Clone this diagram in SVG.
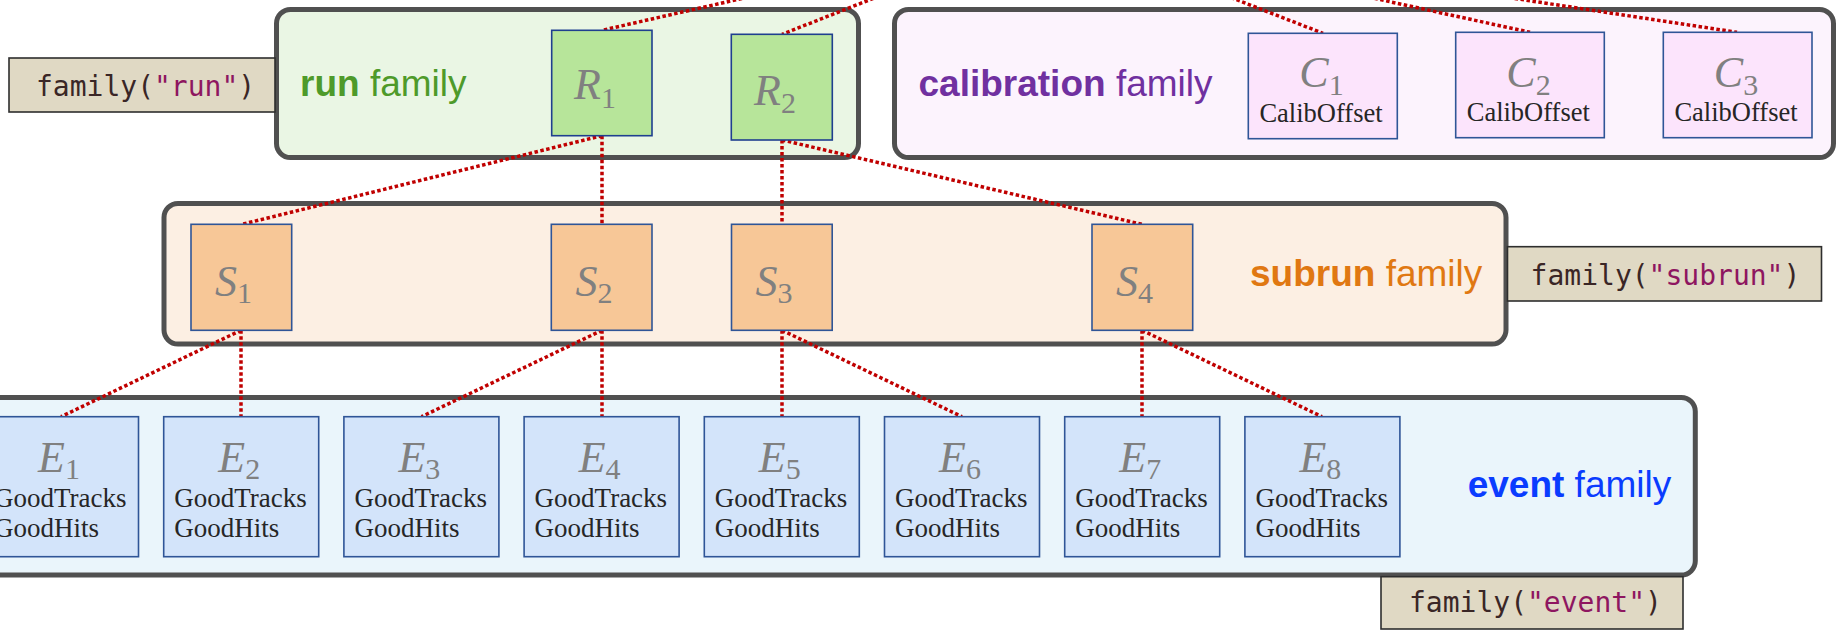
<svg xmlns="http://www.w3.org/2000/svg" width="1837" height="630" viewBox="0 0 1837 630">
  <style>
    .fam { stroke: #505050; stroke-width: 5; }
    .famtxt { font-family: "Liberation Sans", Arial, sans-serif; font-size: 37px; }
    .famtxt .b { font-weight: bold; }
    .tag rect { fill: #E0D9C4; stroke: #2E2E2E; stroke-width: 1.6; }
    .tag text { font-family: "DejaVu Sans Mono", "Liberation Mono", monospace; font-size: 28px; fill: #3A2626; }
    .tag .str { fill: #8E1660; }
    .node rect { stroke: #2F5597; stroke-width: 1.6; }
    .sym { font-family: "Liberation Serif", "Times New Roman", serif; font-style: italic; font-size: 44px; fill: #808080; text-anchor: middle; }
    .sym .sub { font-style: normal; font-size: 30px; }
    .prod { font-family: "Liberation Serif", "Times New Roman", serif; font-size: 27px; fill: #262626; }
    .cal .prod { font-size: 26.5px; }
    .run rect { fill: #B7E59A; stroke: #1F3F8F; }
    .cal rect { fill: #FCE4FC; }
    .sub rect { fill: #F7C797; }
    .evt rect { fill: #D3E4FA; }
    #connectors line { stroke: #C00000; stroke-width: 3.5; stroke-dasharray: 3.5 2.5; fill: none; }
  </style>

  <!-- family containers -->
  <g id="run-family">
    <rect class="fam" x="276.5" y="9.5" width="582" height="148" rx="14" fill="#EAF6E4"/>
    <text class="famtxt" x="300" y="96" fill="#4E9A2A"><tspan class="b">run</tspan> family</text>
  </g>
  <g id="calibration-family">
    <rect class="fam" x="894.5" y="9.5" width="939" height="148" rx="14" fill="#FCF3FD"/>
    <text class="famtxt" x="918.5" y="96" fill="#7030A0"><tspan class="b">calibration</tspan> family</text>
  </g>
  <g id="subrun-family">
    <rect class="fam" x="164" y="203.5" width="1342" height="140.5" rx="14" fill="#FCEFE3"/>
    <text class="famtxt" x="1250" y="286" fill="#E07812"><tspan class="b">subrun</tspan> family</text>
  </g>
  <g id="event-family">
    <rect class="fam" x="-40" y="397.5" width="1735.3" height="177.5" rx="14" fill="#EAF5FB"/>
    <text class="famtxt" x="1467.7" y="497.3" fill="#0A3CFF"><tspan class="b">event</tspan> family</text>
  </g>

  <!-- family(...) tags -->
  <g id="tag-run" class="tag">
    <rect x="9" y="58" width="266" height="54"/>
    <text x="36" y="96">family(<tspan class="str">"run"</tspan>)</text>
  </g>
  <g id="tag-subrun" class="tag">
    <rect x="1507.5" y="246.7" width="314" height="54.3"/>
    <text x="1530.6" y="284.5">family(<tspan class="str">"subrun"</tspan>)</text>
  </g>
  <g id="tag-event" class="tag">
    <rect x="1381" y="576.7" width="302" height="52.3"/>
    <text x="1409" y="611.7">family(<tspan class="str">"event"</tspan>)</text>
  </g>

  <!-- dotted links between levels -->
  <g id="connectors">
    <line x1="1052" y1="-72" x2="602" y2="30.3"/>
    <line x1="1052" y1="-72" x2="782" y2="34.3"/>
    <line x1="1052" y1="-72" x2="1323" y2="33.3"/>
    <line x1="1052" y1="-72" x2="1530" y2="32.3"/>
    <line x1="1052" y1="-72" x2="1737" y2="32.3"/>
    <line x1="602" y1="135.7" x2="242" y2="224.3"/>
    <line x1="602" y1="135.7" x2="602" y2="224.3"/>
    <line x1="782" y1="140" x2="782" y2="224.3"/>
    <line x1="782" y1="140" x2="1142" y2="224.3"/>
    <line x1="241" y1="330.3" x2="61" y2="416.7"/>
    <line x1="241" y1="330.3" x2="241" y2="416.7"/>
    <line x1="602" y1="330.3" x2="421.5" y2="416.7"/>
    <line x1="602" y1="330.3" x2="602" y2="416.7"/>
    <line x1="782" y1="330.3" x2="782" y2="416.7"/>
    <line x1="782" y1="330.3" x2="962" y2="416.7"/>
    <line x1="1142" y1="330.3" x2="1142" y2="416.7"/>
    <line x1="1142" y1="330.3" x2="1322" y2="416.7"/>
  </g>

  <!-- run nodes -->
  <g id="R1" class="node run">
    <rect x="551.7" y="30.3" width="100.3" height="105.4"/>
    <text class="sym" x="595" y="99.3">R<tspan class="sub" dy="8.7">1</tspan></text>
  </g>
  <g id="R2" class="node run">
    <rect x="731.3" y="34.3" width="101" height="105.7"/>
    <text class="sym" x="775" y="105">R<tspan class="sub" dy="8.3">2</tspan></text>
  </g>

  <!-- calibration nodes -->
  <g id="C1" class="node cal">
    <rect x="1248.3" y="33.3" width="149" height="105.4"/>
    <text class="sym" x="1321.5" y="87">C<tspan class="sub" dy="8">1</tspan></text>
    <text class="prod" x="1321" y="121.7" text-anchor="middle">CalibOffset</text>
  </g>
  <g id="C2" class="node cal">
    <rect x="1455.7" y="32.3" width="148.6" height="105.4"/>
    <text class="sym" x="1528.5" y="86.5">C<tspan class="sub" dy="8.5">2</tspan></text>
    <text class="prod" x="1528.3" y="121" text-anchor="middle">CalibOffset</text>
  </g>
  <g id="C3" class="node cal">
    <rect x="1663.3" y="32.3" width="148.7" height="105.4"/>
    <text class="sym" x="1736" y="86.5">C<tspan class="sub" dy="8.5">3</tspan></text>
    <text class="prod" x="1736" y="121" text-anchor="middle">CalibOffset</text>
  </g>

  <!-- subrun nodes -->
  <g id="S1" class="node sub">
    <rect x="191" y="224.3" width="100.7" height="106"/>
    <text class="sym" x="233.5" y="296">S<tspan class="sub" dy="6.7">1</tspan></text>
  </g>
  <g id="S2" class="node sub">
    <rect x="551.3" y="224.3" width="100.7" height="106"/>
    <text class="sym" x="594" y="296">S<tspan class="sub" dy="6.7">2</tspan></text>
  </g>
  <g id="S3" class="node sub">
    <rect x="731.5" y="224.3" width="100.7" height="106"/>
    <text class="sym" x="774" y="296">S<tspan class="sub" dy="6.7">3</tspan></text>
  </g>
  <g id="S4" class="node sub">
    <rect x="1092" y="224.3" width="100.7" height="106"/>
    <text class="sym" x="1134.5" y="296">S<tspan class="sub" dy="6.7">4</tspan></text>
  </g>

  <!-- event nodes -->
  <g id="E1" class="node evt">
    <rect x="-16.5" y="416.7" width="155" height="140"/>
    <text class="sym" x="59" y="471.7">E<tspan class="sub" dy="7.3">1</tspan></text>
    <text class="prod" x="-6" y="506.7">GoodTracks</text>
    <text class="prod" x="-6" y="537.3">GoodHits</text>
  </g>
  <g id="E2" class="node evt">
    <rect x="163.7" y="416.7" width="155" height="140"/>
    <text class="sym" x="239.2" y="471.7">E<tspan class="sub" dy="7.3">2</tspan></text>
    <text class="prod" x="174.2" y="506.7">GoodTracks</text>
    <text class="prod" x="174.2" y="537.3">GoodHits</text>
  </g>
  <g id="E3" class="node evt">
    <rect x="343.9" y="416.7" width="155" height="140"/>
    <text class="sym" x="419.4" y="471.7">E<tspan class="sub" dy="7.3">3</tspan></text>
    <text class="prod" x="354.4" y="506.7">GoodTracks</text>
    <text class="prod" x="354.4" y="537.3">GoodHits</text>
  </g>
  <g id="E4" class="node evt">
    <rect x="524.1" y="416.7" width="155" height="140"/>
    <text class="sym" x="599.6" y="471.7">E<tspan class="sub" dy="7.3">4</tspan></text>
    <text class="prod" x="534.6" y="506.7">GoodTracks</text>
    <text class="prod" x="534.6" y="537.3">GoodHits</text>
  </g>
  <g id="E5" class="node evt">
    <rect x="704.3" y="416.7" width="155" height="140"/>
    <text class="sym" x="779.8" y="471.7">E<tspan class="sub" dy="7.3">5</tspan></text>
    <text class="prod" x="714.8" y="506.7">GoodTracks</text>
    <text class="prod" x="714.8" y="537.3">GoodHits</text>
  </g>
  <g id="E6" class="node evt">
    <rect x="884.5" y="416.7" width="155" height="140"/>
    <text class="sym" x="960" y="471.7">E<tspan class="sub" dy="7.3">6</tspan></text>
    <text class="prod" x="895" y="506.7">GoodTracks</text>
    <text class="prod" x="895" y="537.3">GoodHits</text>
  </g>
  <g id="E7" class="node evt">
    <rect x="1064.7" y="416.7" width="155" height="140"/>
    <text class="sym" x="1140.2" y="471.7">E<tspan class="sub" dy="7.3">7</tspan></text>
    <text class="prod" x="1075.2" y="506.7">GoodTracks</text>
    <text class="prod" x="1075.2" y="537.3">GoodHits</text>
  </g>
  <g id="E8" class="node evt">
    <rect x="1244.9" y="416.7" width="155" height="140"/>
    <text class="sym" x="1320.4" y="471.7">E<tspan class="sub" dy="7.3">8</tspan></text>
    <text class="prod" x="1255.4" y="506.7">GoodTracks</text>
    <text class="prod" x="1255.4" y="537.3">GoodHits</text>
  </g>
</svg>
